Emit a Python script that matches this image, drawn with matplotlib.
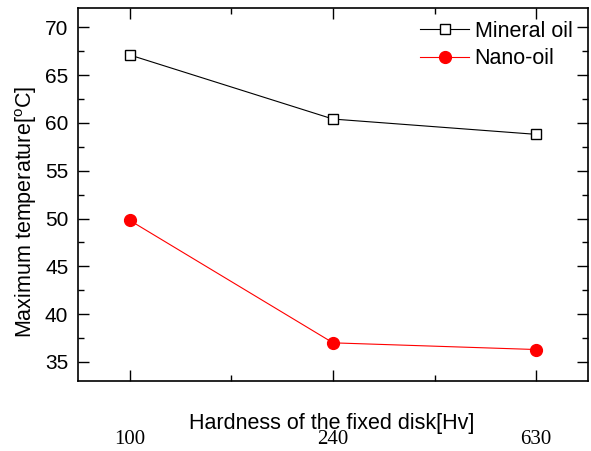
import numpy as np
import matplotlib
matplotlib.use('Agg')
import matplotlib.pyplot as plt
from matplotlib.ticker import MultipleLocator

hardness = ['100', '240', '630']
mineral_oil = [67.1, 60.4, 58.8]
nano_oil = [49.8, 37.0, 36.3]

plt.rcParams['font.family'] = ['Liberation Sans', 'DejaVu Sans']
plt.rcParams['mathtext.fontset'] = 'custom'
plt.rcParams['mathtext.rm'] = 'Liberation Sans'

fig = plt.figure(figsize=(5.91, 4.51), dpi=100)
ax = fig.add_axes([0.132, 0.155, 0.863, 0.827])

pos = np.arange(1, len(hardness) + 1)
ax.plot(pos, mineral_oil, color='black', lw=0.8, marker='s', ms=7,
        mfc='white', mec='black', mew=1.0, label='Mineral oil')
ax.plot(pos, nano_oil, color='red', lw=0.8, marker='o', ms=8.5,
        mfc='red', mec='red', label='Nano-oil')

ax.set_xlim(0.745, 3.255)
ax.set_ylim(33, 72)
ax.set_xticks(pos)
ax.set_xticklabels(hardness, family=['Liberation Serif'], fontsize=15)
ax.set_xticks([1.5, 2.5], minor=True)
ax.yaxis.set_major_locator(MultipleLocator(5))
ax.yaxis.set_minor_locator(MultipleLocator(2.5))

ax.tick_params(which='both', direction='in', top=True, right=True, width=1.0)
ax.tick_params(which='major', length=8)
ax.tick_params(which='minor', length=4)
ax.tick_params(axis='y', labelsize=15, pad=7)
ax.tick_params(axis='x', pad=35)
for sp in ax.spines.values():
    sp.set_linewidth(1.2)

ax.set_ylabel('Maximum temperature[$^{\\rm o}$C]', fontsize=15.5)
ax.yaxis.set_label_coords(-0.077, 0.453)
ax.text(0.497, -0.115, 'Hardness of the fixed disk[Hv]', transform=ax.transAxes,
        ha='center', va='center', fontsize=15.5)

ax.legend(loc='upper right', bbox_to_anchor=(0.995, 1.0), frameon=False,
          fontsize=15.5, handlelength=2.3, handletextpad=0.25,
          borderaxespad=0.2, labelspacing=0.3)

fig.savefig('out.png', dpi=100)
